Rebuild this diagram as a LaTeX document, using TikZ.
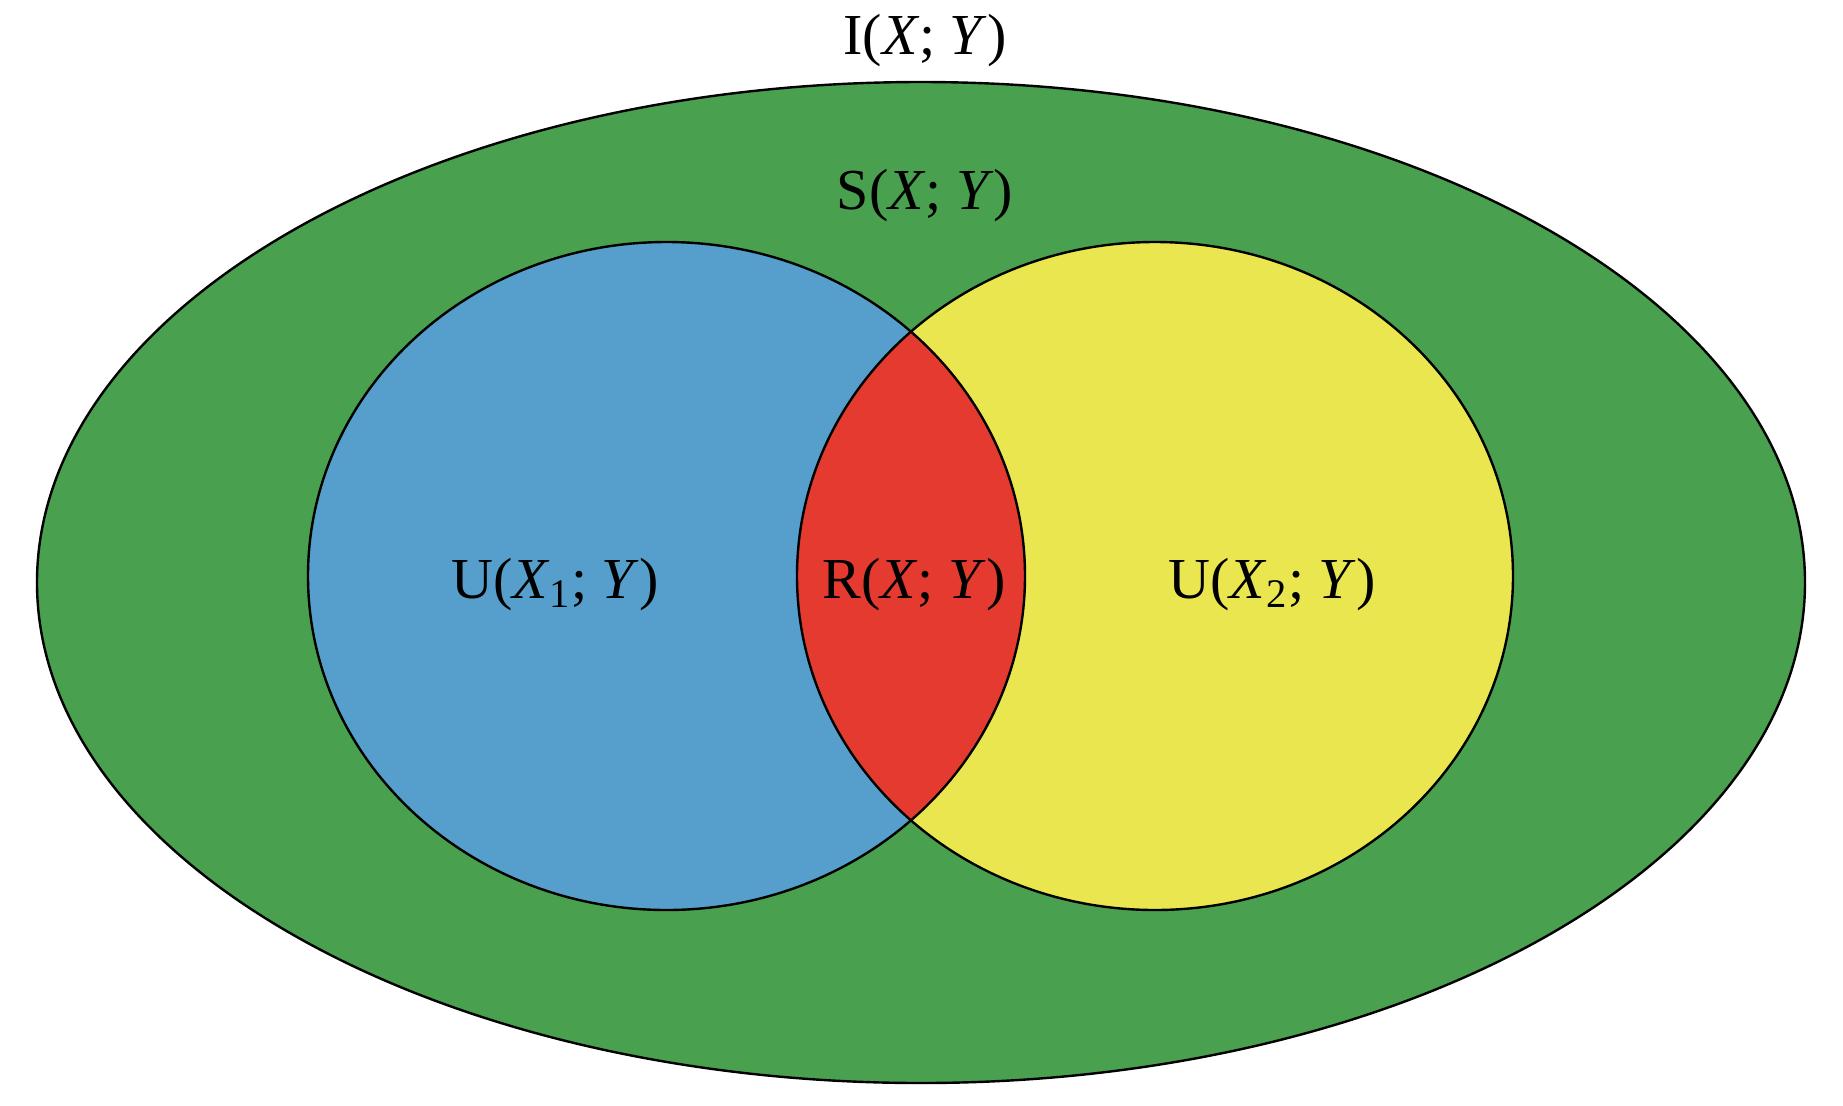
\documentclass[tikz,border=0pt]{standalone}
\usepackage{fontspec}
\setmainfont{Liberation Serif}
\definecolor{outergreen}{HTML}{49A04E}
\definecolor{setblue}{HTML}{569FCC}
\definecolor{setyellow}{HTML}{EAE64F}
\definecolor{setred}{HTML}{E43A30}
\tikzset{
  lbl/.style={anchor=base, inner sep=0pt, font=\fontsize{29}{35}\selectfont},
  outline/.style={draw=black, line width=1.2pt}
}
\newcommand{\myX}{\textit{X}}
\newcommand{\myY}{\textit{Y}}
\begin{document}
\begin{tikzpicture}[x=0.5pt, y=-0.5pt]
\useasboundingbox (0,0) rectangle (1843,1105);
% outer ellipse
\fill[outergreen] (921,582.5) ellipse [x radius=884, y radius=500.5];
\draw[outline] (921,582.5) ellipse [x radius=884, y radius=500.5];
% left and right sets
\fill[setblue] (666.5,576) ellipse [x radius=358.5, y radius=334];
\fill[setyellow] (1155,576) ellipse [x radius=358, y radius=334];
\begin{scope}
  \clip (666.5,576) ellipse [x radius=358.5, y radius=334];
  \fill[setred] (1155,576) ellipse [x radius=358, y radius=334];
\end{scope}
\draw[outline] (666.5,576) ellipse [x radius=358.5, y radius=334];
\draw[outline] (1155,576) ellipse [x radius=358, y radius=334];
% labels
\node[lbl] (I) at (925,54) {I(\myX; \myY)};
\node[lbl] (S) at (925,209) {S(\myX; \myY)};
\node[lbl] (U1) at (555,598) {U(\myX\textsubscript{1}; \myY)};
\node[lbl] (R) at (914,598) {R(\myX; \myY)};
\node[lbl] (U2) at (1272,598) {U(\myX\textsubscript{2}; \myY)};
\end{tikzpicture}
\end{document}
